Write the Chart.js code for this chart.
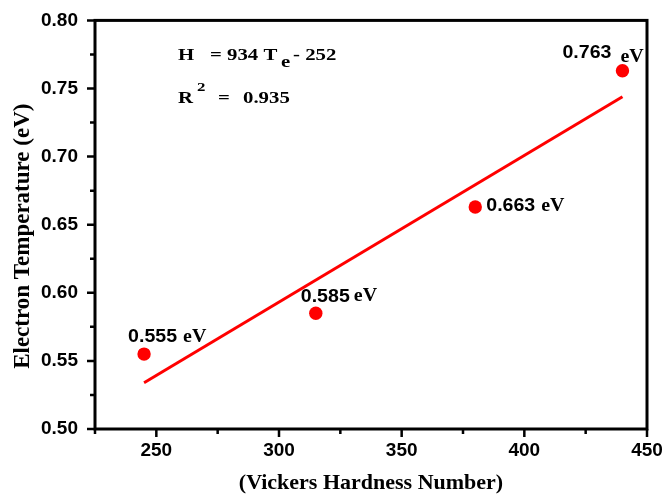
<!DOCTYPE html>
<html>
<head>
<meta charset="utf-8">
<script src="https://cdn.jsdelivr.net/npm/chart.js@4.4.0/dist/chart.umd.min.js"></script>
<style>
  html, body { margin: 0; padding: 0; background: #fff; }
  #wrap { width: 665px; height: 497px; }
</style>
</head>
<body>
<div id="wrap"><canvas id="chart" width="665" height="497"></canvas></div>
<script>
// values
const hardness = [245, 315, 380, 440];
const electronTemp = [0.555, 0.585, 0.663, 0.763];
const pointLabels = ['0.555', '0.585', '0.663', '0.763'];
const fitX = [245, 440];
const fitY = [0.534, 0.744];
const xTicks = [250, 300, 350, 400, 450];
const yTicks = [0.50, 0.55, 0.60, 0.65, 0.70, 0.75, 0.80];

const red = '#ff0000';
const sansFam = '"Liberation Sans", Arial, sans-serif';
const serifFam = '"Liberation Serif", "Times New Roman", serif';

// label offsets relative to each point (px): [dx, dy, gap before eV, eV dy]
const labelOffsets = [
  [-16, -12, 6, 0],
  [-15, -11, 4, -1],
  [11, 4.5, 6, 0],
  [-60, -13, 9, 4]
];

// draws text stretched horizontally, returns drawn width
function stretchText(ctx, str, x, y, font, sx) {
  ctx.save();
  ctx.font = font;
  ctx.translate(x, y);
  ctx.scale(sx, 1);
  ctx.fillText(str, 0, 0);
  const w = ctx.measureText(str).width * sx;
  ctx.restore();
  return w;
}

const decorPlugin = {
  id: 'decor',
  afterDraw(chart) {
    const ctx = chart.ctx;
    const a = chart.chartArea;
    const xs = chart.scales.x, ys = chart.scales.y;
    ctx.save();

    // frame
    ctx.strokeStyle = '#000';
    ctx.lineWidth = 3;
    ctx.strokeRect(a.left, a.top, a.right - a.left, a.bottom - a.top);

    // ticks, major and minor, pointing outward
    ctx.lineWidth = 2.5;
    ctx.beginPath();
    for (let v = 225; v <= 450; v += 25) {
      const px = xs.getPixelForValue(v);
      const len = (v % 50 === 0) ? 8 : 5;
      ctx.moveTo(px, a.bottom);
      ctx.lineTo(px, a.bottom + len);
    }
    for (let i = 0; i <= 12; i++) {
      const v = 0.5 + i * 0.025;
      const py = ys.getPixelForValue(v);
      const len = (i % 2 === 0) ? 8 : 5;
      ctx.moveTo(a.left, py);
      ctx.lineTo(a.left - len, py);
    }
    ctx.stroke();

    // point labels
    ctx.fillStyle = '#000';
    ctx.textAlign = 'left';
    ctx.textBaseline = 'alphabetic';
    hardness.forEach((h, i) => {
      const px = xs.getPixelForValue(h);
      const py = ys.getPixelForValue(electronTemp[i]);
      const o = labelOffsets[i];
      const x0 = px + o[0], y0 = py + o[1];
      const w = stretchText(ctx, pointLabels[i], x0, y0, 'bold 19px ' + sansFam, 1.03);
      stretchText(ctx, 'eV', x0 + w + o[2], y0 + o[3], 'bold 19px ' + serifFam, 1.05);
    });

    // fit equation
    const L = a.left, T = a.top;
    const eqFont = 'bold 16px ' + serifFam;
    const sx = 1.3;
    stretchText(ctx, 'H', L + 83, T + 40, eqFont, sx);
    stretchText(ctx, '= 934 T', L + 115, T + 40, eqFont, sx);
    stretchText(ctx, 'e', L + 186, T + 47, eqFont, sx);
    stretchText(ctx, '- 252', L + 198, T + 40, eqFont, sx);

    stretchText(ctx, 'R', L + 83, T + 83, eqFont, sx);
    stretchText(ctx, '2', L + 102, T + 71, 'bold 13px ' + serifFam, sx);
    stretchText(ctx, '=', L + 123, T + 83, eqFont, sx);
    stretchText(ctx, '0.935', L + 148, T + 83, eqFont, sx);

    ctx.restore();
  }
};

new Chart(document.getElementById('chart'), {
  type: 'scatter',
  data: {
    datasets: [
      {
        type: 'line',
        label: 'fit',
        data: fitX.map((x, i) => ({ x: x, y: fitY[i] })),
        borderColor: red,
        borderWidth: 3,
        pointRadius: 0,
        fill: false
      },
      {
        label: 'Electron Temperature',
        data: hardness.map((x, i) => ({ x: x, y: electronTemp[i] })),
        backgroundColor: red,
        borderColor: red,
        pointRadius: 6.7,
        pointBorderWidth: 0
      }
    ]
  },
  options: {
    responsive: false,
    animation: false,
    layout: { padding: { top: 20, right: 18, left: 0, bottom: 0 } },
    plugins: {
      legend: { display: false },
      tooltip: { enabled: false }
    },
    scales: {
      x: {
        type: 'linear',
        min: 225,
        max: 450,
        afterBuildTicks: s => { s.ticks = xTicks.map(v => ({ value: v })); },
        afterFit: s => { s.height = 68; },
        grid: { display: false },
        border: { display: false },
        ticks: {
          color: '#000',
          font: { family: sansFam, size: 19, weight: 'bold' },
          padding: 2,
          maxRotation: 0
        },
        title: {
          display: true,
          text: '(Vickers Hardness Number)',
          color: '#000',
          font: { family: serifFam, size: 22, weight: 'bold' },
          padding: { top: 0, bottom: 0 }
        }
      },
      y: {
        type: 'linear',
        min: 0.5,
        max: 0.8,
        afterBuildTicks: s => { s.ticks = yTicks.map(v => ({ value: v })); },
        afterFit: s => { s.width = 95; },
        grid: { display: false },
        border: { display: false },
        ticks: {
          color: '#000',
          font: { family: sansFam, size: 19, weight: 'bold' },
          padding: 9,
          callback: v => v.toFixed(2)
        },
        title: {
          display: true,
          text: 'Electron Temperature (eV)    ',
          color: '#000',
          font: { family: serifFam, size: 23, weight: 'bold' },
          padding: { top: 9, bottom: 0 }
        }
      }
    }
  },
  plugins: [decorPlugin]
});
</script>
</body>
</html>
